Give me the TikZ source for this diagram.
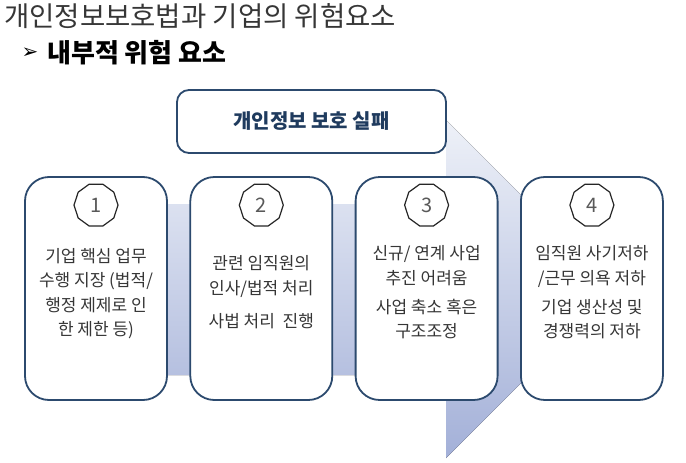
\documentclass[tikz,border=0pt]{standalone}
\usepackage{fontspec}
\setmainfont{Noto Sans CJK KR}
\newfontfamily\symfont{DejaVu Sans}
\usetikzlibrary{positioning, shapes.geometric}

\definecolor{boxblue}{HTML}{2C4A6E}
\definecolor{headblue}{HTML}{1F3B5E}
\definecolor{textgray}{HTML}{363636}
\definecolor{numgray}{HTML}{595959}
\definecolor{arrowtop}{HTML}{EEF1F8}
\definecolor{arrowbot}{HTML}{A3B0D8}

\begin{document}
\begin{tikzpicture}[x=1pt, y=-1pt,
    riskbox/.style={draw=boxblue, line width=1.8pt, fill=white, rounded corners=24pt,
        minimum width=142pt, minimum height=223pt},
    numbadge/.style={draw=black!85, line width=1.2pt, fill=white, regular polygon,
        regular polygon sides=10, minimum size=44pt, inner sep=0pt,
        font=\fontsize{20}{20}\selectfont, text=numgray},
    risktext/.style={align=center, text=textgray, font=\fontsize{17}{24.5}\selectfont},
    node distance=21.5pt]
    \useasboundingbox (0,0) rectangle (686,463);

    % titles
    \node[anchor=west, text=textgray, font=\fontsize{27.5}{27.5}\selectfont, inner sep=0pt]
        (title) at (4,16) {개인정보보호법과 기업의 위험요소};
    \node[font=\symfont\fontsize{20}{20}\selectfont, inner sep=0pt] (bullet) at (30,53) {➢};
    \node[anchor=west, font=\bfseries\fontsize{26}{26}\selectfont, inner sep=0pt]
        (subtitle) at (47,53) {내부적 위험 요소};

    % background arrow
    \fill[top color=arrowtop, bottom color=arrowbot]
        (60,204) -- (446,204) -- (446,120) -- (615,289) -- (446,458) -- (446,375) -- (60,375) -- cycle;

    \node[draw=boxblue, line width=1.8pt, fill=white, rounded corners=12pt,
        minimum width=269pt, minimum height=63pt, text=headblue,
        font=\bfseries\fontsize{20}{20}\selectfont] (fail) at (311.5,121.5) {개인정보 보호 실패};

    % risk boxes
    \node[riskbox] (b1) at (96,288.5) {};
    \node[riskbox, right=of b1] (b2) {};
    \node[riskbox, right=of b2] (b3) {};
    \node[riskbox, right=of b3] (b4) {};

    \foreach \i in {1,...,4}
        \node[numbadge] (n\i) at ([yshift=-29pt]b\i.north) {\i};

    \node[risktext] (t1) at ([yshift=-5pt]b1.center)
        {기업 핵심 업무\\수행 지장 (법적/\\행정 제제로 인\\한 제한 등)};
    \node[risktext] (t2) at ([yshift=-4pt]b2.center)
        {관련 임직원의\\인사/법적 처리\\[9pt]사법 처리\ \ 진행};
    \node[risktext] (t3) at ([yshift=-4pt]b3.center)
        {신규/ 연계 사업\\추진 어려움\\[4.5pt]사업 축소 혹은\\구조조정};
    \node[risktext] (t4) at ([yshift=-4pt]b4.center)
        {임직원 사기저하\\/근무 의욕 저하\\[4.5pt]기업 생산성 및\\경쟁력의 저하};
\end{tikzpicture}
\end{document}
